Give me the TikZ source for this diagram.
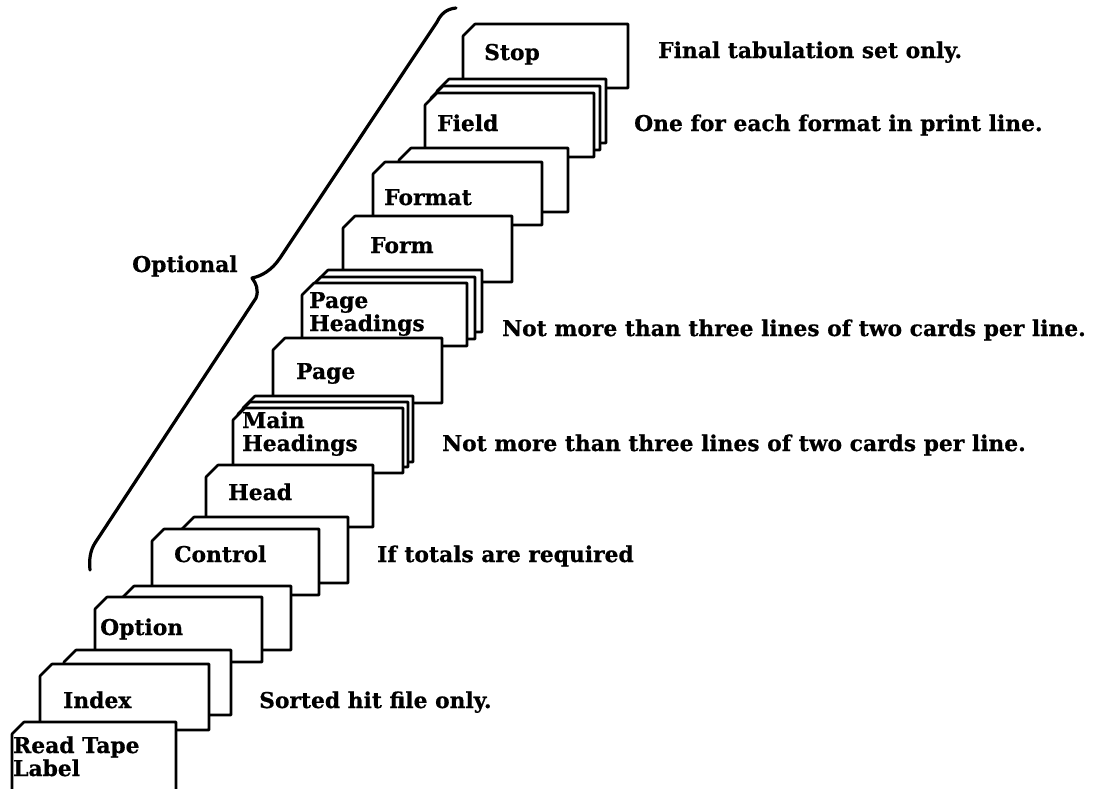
\documentclass[tikz,border=0pt]{standalone}
\usepackage{fontspec}
\setmainfont{DejaVu Serif}[BoldFeatures={FakeBold=0.6}]
\newcommand\mycard[4]{%
  \filldraw[card] ({#1},{#2+12}) -- ({#1+12},{#2}) -- ({#3},{#2}) -- ({#3},{#4}) -- ({#1},{#4}) -- cycle;}
\tikzset{
  card/.style={draw=black, fill=white, line width=2.6pt, line join=round},
  lbl/.style={anchor=base west, inner sep=0pt, font=\bfseries\fontsize{21.8}{23}\selectfont, align=left},
  bracestyle/.style={draw=black, line width=3.2pt, line cap=round, line join=round}
}
\begin{document}
\begin{tikzpicture}[x=1pt,y=-1pt]
\useasboundingbox[fill=white] (0,0) rectangle (1095,788);
% brace
\draw[bracestyle] (456,8) .. controls (446,9) and (441,14) .. (437,22) -- (280,258)
  .. controls (272,270) and (262,276) .. (252,278)
  .. controls (256,283) and (259,290) .. (256,298) -- (95,543)
  .. controls (90,551) and (89,560) .. (90,570);
\node[lbl] (optional) at (132,272) {Optional};
% cards back to front
\mycard{463}{24}{628}{88}
\node[lbl] (stop) at (484,60) {Stop};
\mycard{437}{79}{606}{143}
\mycard{431}{86}{600}{150}
\mycard{425}{93}{594}{157}
\node[lbl] (field) at (437,131) {Field};
\mycard{399}{148}{568}{212}
\mycard{373}{162}{542}{225}
\node[lbl] (format) at (384,205) {Format};
\mycard{343}{216}{512}{282}
\node[lbl] (form) at (370,253) {Form};
\mycard{316}{270}{482}{332}
\mycard{309}{277}{475}{339}
\mycard{302}{283}{467}{346}
\node[lbl] (pagehead) at (309,331) {Page\\Headings};
\mycard{273}{338}{442}{403}
\node[lbl] (page) at (296,379) {Page};
\mycard{243}{396}{413}{462}
\mycard{238}{402}{408}{467}
\mycard{233}{408}{403}{473}
\node[lbl] (mainhead) at (242,451) {Main\\Headings};
\mycard{206}{465}{373}{527}
\node[lbl] (head) at (228,500) {Head};
\mycard{182}{517}{348}{583}
\mycard{152}{529}{319}{595}
\node[lbl] (control) at (174,562) {Control};
\mycard{122}{586}{291}{650}
\mycard{95}{597}{262}{662}
\node[lbl] (option) at (100,635) {Option};
\mycard{64}{650}{231}{715}
\mycard{40}{664}{209}{730}
\node[lbl] (index) at (63,708) {Index};
\filldraw[card] (12,790) -- (12,734) -- (24,722) -- (176,722) -- (176,790);
\node[lbl] (readtape) at (13,776) {Read Tape\\Label};
% right-hand notes
\node[lbl] (n1) at (658,58) {Final tabulation set only.};
\node[lbl] (n2) at (634,131) {One for each format in print line.};
\node[lbl] (n3) at (502,336) {Not more than three lines of two cards per line.};
\node[lbl] (n4) at (442,451) {Not more than three lines of two cards per line.};
\node[lbl] (n5) at (377,562) {If totals are required};
\node[lbl] (n6) at (259,708) {Sorted hit file only.};
\end{tikzpicture}
\end{document}
